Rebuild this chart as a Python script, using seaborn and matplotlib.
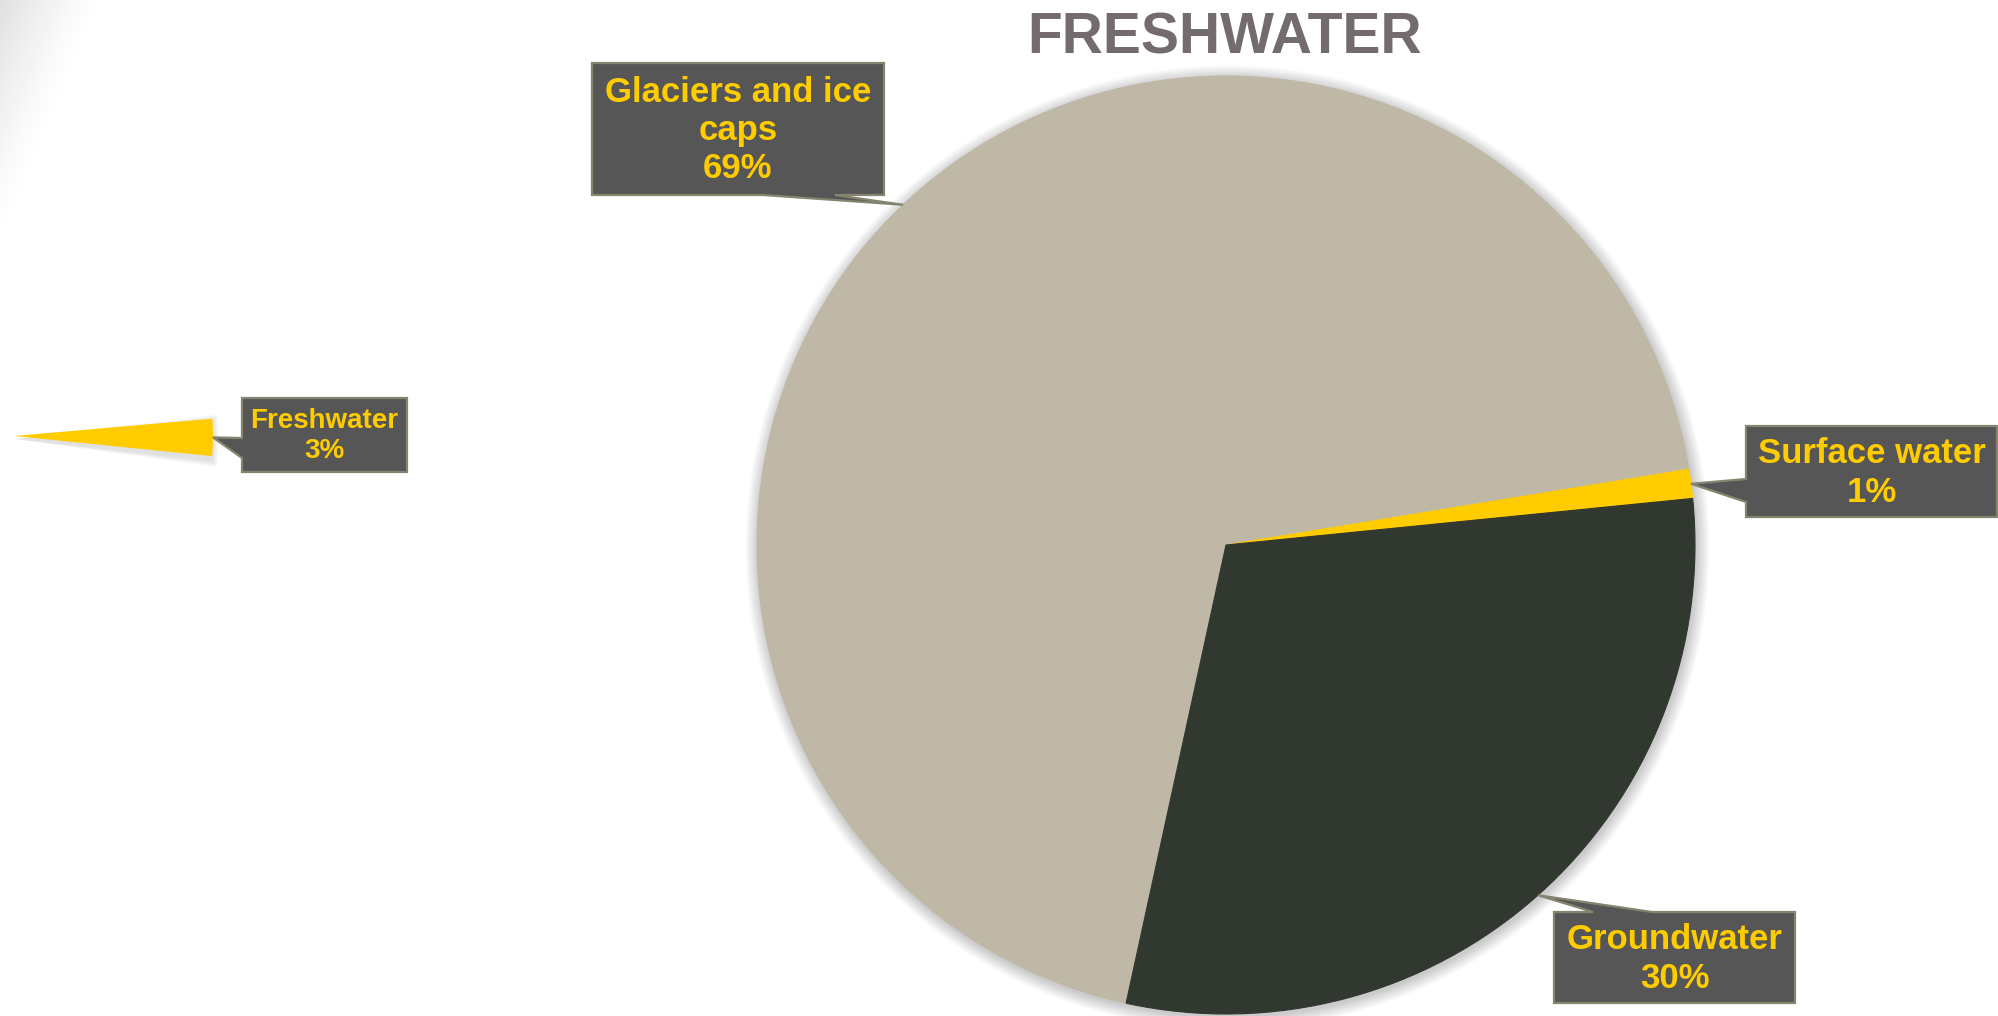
import textwrap
import numpy as np
import pandas as pd
import matplotlib
matplotlib.use("Agg")
import matplotlib.pyplot as plt
from matplotlib.patches import Circle, Polygon, Wedge
import seaborn as sns

# Share of all water on Earth
share_categories = ["Freshwater", "Saltwater"]
share_values = [3, 97]

# How the freshwater is stored
fresh_categories = ["Glaciers and ice caps", "Surface water", "Groundwater"]
fresh_values = [69, 1, 30]

chart_title = "FRESHWATER"

sns.set_theme(style="white")
plt.rcParams["font.family"] = ["Liberation Sans", "DejaVu Sans"]

W, H = 1998, 1016
fig = plt.figure(figsize=(W / 100, H / 100), dpi=100)
fig.patch.set_facecolor("white")
ax = fig.add_axes([0, 0, 1, 1])

YELLOW = "#FFCC00"
BOX_FACE = "#565656"
BOX_EDGE = "#85856F"
fresh_palette = dict(zip(fresh_categories, ["#BFB8A6", YELLOW, "#313830"]))


def py(y):
    """Convert a top-down pixel row to a data y value."""
    return H - y


# soft grey sweep in the top-left corner of the slide background
gx, gy = np.meshgrid(np.arange(W), np.arange(H))
d = ((gx - 105) * 240 + gy * 100) / 260.0
shade = np.clip(-d / 95.0, 0, 1)
bg = 1 - 0.12 * shade ** 1.3
ax.imshow(bg, cmap="gray", vmin=0, vmax=1, extent=(0, W, 0, H),
          origin="upper", zorder=0, interpolation="bilinear")

# ---- freshwater share wedge (saltwater part left unfilled) ----
share_df = pd.DataFrame({"category": share_categories, "value": share_values})
s_center, s_radius = (14, py(436)), 199
for k in range(6):
    ax.add_patch(Wedge((s_center[0] + 1, s_center[1] - 3), s_radius + k,
                       -6.5 - k * 0.3, 5.5 + k * 0.3,
                       facecolor="black", alpha=0.02, lw=0, zorder=1))
s_wedges, _ = ax.pie(share_df["value"], colors=[YELLOW, "none"],
                     startangle=5.0, counterclock=False,
                     center=s_center, radius=s_radius, frame=True,
                     wedgeprops=dict(linewidth=0))
for w in s_wedges:
    w.set_zorder(2)

# ---- freshwater breakdown pie ----
fresh_df = pd.DataFrame({"category": fresh_categories, "value": fresh_values})
p_center, p_radius = (1226, py(545)), 469
for k in range(13, 0, -1):
    ax.add_patch(Circle((p_center[0] + 1.5, p_center[1] - 2.5), p_radius + k,
                        facecolor="black", alpha=0.016, lw=0, zorder=1))
p_wedges, _ = ax.pie(fresh_df["value"],
                     colors=[fresh_palette[c] for c in fresh_df["category"]],
                     startangle=257.7, counterclock=False,
                     center=p_center, radius=p_radius, frame=True,
                     wedgeprops=dict(linewidth=0.8))
for w in p_wedges:
    w.set_edgecolor(w.get_facecolor())
    w.set_zorder(2)


def rim_point(wedge, r_scale=1.0):
    th = np.deg2rad((wedge.theta1 + wedge.theta2) / 2)
    cx, cy = wedge.center
    r = wedge.r * r_scale
    return (cx + r * np.cos(th), H - (cy + r * np.sin(th)))


def callout(box, side, base, tip, text, size):
    x0, y0, x1, y1 = box
    a, b = base
    if side == "top":
        pts = [(x0, y0), (a, y0), tip, (b, y0), (x1, y0), (x1, y1), (x0, y1)]
    elif side == "right":
        pts = [(x0, y0), (x1, y0), (x1, a), tip, (x1, b), (x1, y1), (x0, y1)]
    elif side == "bottom":
        pts = [(x0, y0), (x1, y0), (x1, y1), (b, y1), tip, (a, y1), (x0, y1)]
    else:
        pts = [(x0, y0), (x1, y0), (x1, y1), (x0, y1), (x0, b), tip, (x0, a)]
    ax.add_patch(Polygon([(x, py(y)) for x, y in pts], closed=True,
                         facecolor=BOX_FACE, edgecolor=BOX_EDGE, lw=1.6,
                         joinstyle="miter", zorder=5))
    ax.text((x0 + x1) / 2, py((y0 + y1) / 2 + 1.5), text, ha="center",
            va="center", fontsize=size, fontweight="bold", color=YELLOW,
            linespacing=1.2, zorder=6)


def label_text(name, value):
    return "\n".join(textwrap.wrap(name, 16)) + f"\n{value}%"


by_name = dict(zip(fresh_categories, p_wedges))
vals = dict(zip(fresh_categories, fresh_values))

callout((592, 63, 884, 195), "bottom", (763, 835),
        rim_point(by_name["Glaciers and ice caps"]),
        label_text("Glaciers and ice caps", vals["Glaciers and ice caps"]), 25)
callout((1746, 426, 1997, 517), "left", (479, 502),
        rim_point(by_name["Surface water"]),
        label_text("Surface water", vals["Surface water"]), 25)
callout((1554, 912, 1795, 1003), "top", (1593, 1652),
        rim_point(by_name["Groundwater"]),
        label_text("Groundwater", vals["Groundwater"]), 25)
callout((242, 398, 407, 472), "left", (438, 458),
        rim_point(s_wedges[0]),
        label_text(share_categories[0], share_values[0]), 20)

ax.text(1225, py(53), chart_title, ha="center", va="baseline",
        fontsize=41, fontweight="bold", color="#746B6D", zorder=6)

ax.set_xlim(0, W)
ax.set_ylim(0, H)
ax.set_aspect("equal")
ax.axis("off")

fig.savefig("out.png", dpi=100, facecolor="white")
